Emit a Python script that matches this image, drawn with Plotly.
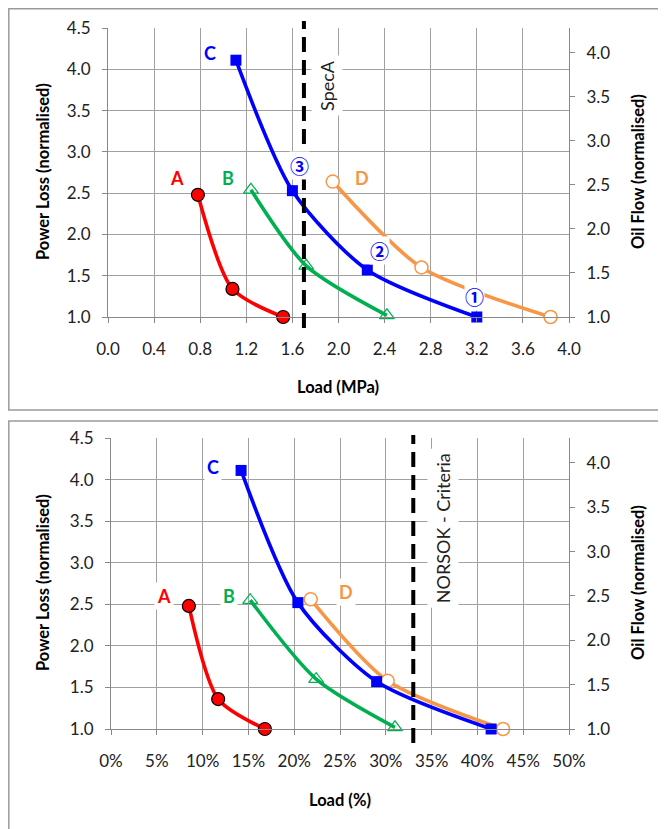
import plotly.graph_objects as go

# ---------------- data ----------------
# Top chart: Load (MPa)
mpa_A = [0.78, 1.08, 1.52]
pl_A_top = [2.48, 1.34, 1.0]
mpa_B = [1.24, 1.72, 2.42]
pl_B_top = [2.54, 1.62, 1.02]
mpa_C = [1.11, 1.60, 2.25, 3.20]
pl_C_top = [4.11, 2.53, 1.57, 1.0]
mpa_D = [1.95, 2.72, 3.84]
pl_D_top = [2.64, 1.60, 1.0]

# Bottom chart: Load (%)
pct_A = [8.5, 11.7, 16.8]
pl_A_bot = [2.48, 1.36, 1.0]
pct_B = [15.2, 22.4, 31.0]
pl_B_bot = [2.55, 1.60, 1.02]
pct_C = [14.2, 20.4, 29.0, 41.5]
pl_C_bot = [4.11, 2.52, 1.57, 1.0]
pct_D = [21.8, 30.2, 42.8]
pl_D_bot = [2.56, 1.58, 1.0]

SPEC_A = 1.70       # MPa
NORSOK = 33.0       # %

x_top_ticks = [0.0, 0.4, 0.8, 1.2, 1.6, 2.0, 2.4, 2.8, 3.2, 3.6, 4.0]
x_bot_ticks = [0, 5, 10, 15, 20, 25, 30, 35, 40, 45, 50]
x_bot_labels = ["0%", "5%", "10%", "15%", "20%", "25%", "30%", "35%", "40%", "45%", "50%"]
y_left_ticks = [1.0, 1.5, 2.0, 2.5, 3.0, 3.5, 4.0, 4.5]
y_right_ticks = [1.0, 1.5, 2.0, 2.5, 3.0, 3.5, 4.0]

RED = "#FF0000"
GREEN = "#00B050"
BLUE = "#0000FF"
ORANGE = "#F79646"
GRID = "#A0A0A0"
FONT = "Lato"

W, H = 666, 829
OFF = 8  # page body margin


def px_x(p):
    return (p - OFF) / W


def px_y(p):
    return 1 - (p - OFF) / H


fig = go.Figure()
SMOOTH = 0.75


def add_series(xs, ys, xa, ya, color, marker):
    fig.add_trace(go.Scatter(
        x=xs, y=ys, xaxis=xa, yaxis=ya, mode="lines+markers",
        line=dict(color=color, width=3.6, shape="spline", smoothing=SMOOTH),
        marker=marker, showlegend=False, cliponaxis=False, hoverinfo="skip"))


def mk_A():
    return dict(symbol="circle", size=13, color=RED, line=dict(color="black", width=1.2))


def mk_B():
    return dict(symbol="triangle-up-open", size=13, color=GREEN, line=dict(color=GREEN, width=1.2))


def mk_C():
    return dict(symbol="square", size=11, color=BLUE, line=dict(width=0))


def mk_D():
    return dict(symbol="circle", size=13, color="white", line=dict(color=ORANGE, width=1.5))


# top
add_series(mpa_A, pl_A_top, "x", "y", RED, mk_A())
add_series(mpa_B, pl_B_top, "x", "y", GREEN, mk_B())
add_series(mpa_D, pl_D_top, "x", "y", ORANGE, mk_D())
add_series(mpa_C, pl_C_top, "x", "y", BLUE, mk_C())
# bottom
add_series(pct_A, pl_A_bot, "x2", "y3", RED, mk_A())
add_series(pct_B, pl_B_bot, "x2", "y3", GREEN, mk_B())
add_series(pct_D, pl_D_bot, "x2", "y3", ORANGE, mk_D())
add_series(pct_C, pl_C_bot, "x2", "y3", BLUE, mk_C())
# invisible traces to activate secondary axes
fig.add_trace(go.Scatter(x=[None], y=[None], xaxis="x", yaxis="y2", showlegend=False))
fig.add_trace(go.Scatter(x=[None], y=[None], xaxis="x2", yaxis="y4", showlegend=False))

tickfont = dict(family=FONT, size=17, color="#222222")

top_dom_y = [px_y(317), px_y(28)]
bot_dom_y = [px_y(729), px_y(438)]

common_x = dict(showgrid=True, gridcolor=GRID, gridwidth=1, showline=True, linecolor="#888888",
                linewidth=1, ticks="outside", ticklen=5, tickcolor="#888888", zeroline=False,
                tickfont=tickfont, ticklabelstandoff=12, fixedrange=True, automargin=False)
common_yl = dict(showgrid=True, gridcolor=GRID, gridwidth=1, showline=True, linecolor="#888888",
                 linewidth=1, ticks="outside", ticklen=5, tickcolor="#888888", zeroline=False,
                 tickfont=tickfont, tickmode="array", tickvals=y_left_ticks, tickformat=".1f",
                 range=[1.0, 4.5], ticklabelstandoff=8, fixedrange=True, automargin=False)
common_yr = dict(showgrid=False, showline=True, linecolor="#888888", linewidth=1,
                 ticks="outside", ticklen=5, tickcolor="#888888", zeroline=False,
                 tickfont=tickfont, tickmode="array", tickvals=y_right_ticks, tickformat=".1f",
                 range=[1.0, 4.28], side="right", ticklabelstandoff=8, fixedrange=True,
                 automargin=False)

fig.update_layout(
    width=W, height=H, margin=dict(l=0, r=0, t=0, b=0, autoexpand=False),
    paper_bgcolor="white", plot_bgcolor="white",
    xaxis=dict(common_x, domain=[px_x(108), px_x(569)], range=[0, 4.0], tickmode="array",
               tickvals=x_top_ticks, tickformat=".1f", anchor="y"),
    yaxis=dict(common_yl, domain=top_dom_y, anchor="x"),
    yaxis2=dict(common_yr, overlaying="y", anchor="x"),
    xaxis2=dict(common_x, domain=[px_x(111), px_x(569)], range=[0, 50], tickmode="array",
                tickvals=x_bot_ticks, ticktext=x_bot_labels, anchor="y3"),
    yaxis3=dict(common_yl, domain=bot_dom_y, anchor="x2"),
    yaxis4=dict(common_yr, overlaying="y3", anchor="x2"),
)

shapes = []
FRAME = dict(color="#9A9A9A", width=1.5)
# chart frames
shapes.append(dict(type="rect", xref="paper", yref="paper", x0=px_x(8.8), x1=1.05,
                   y0=px_y(410), y1=px_y(8.8), line=FRAME, layer="below"))
shapes.append(dict(type="rect", xref="paper", yref="paper", x0=px_x(8.8), x1=1.05,
                   y0=-0.05, y1=px_y(421), line=FRAME, layer="below"))
# criteria lines
shapes.append(dict(type="line", xref="x", yref="paper", x0=SPEC_A, x1=SPEC_A,
                   y0=px_y(328), y1=px_y(21), line=dict(color="black", width=4, dash="15px,8px")))
shapes.append(dict(type="line", xref="x2", yref="paper", x0=NORSOK, x1=NORSOK,
                   y0=px_y(743), y1=px_y(435), line=dict(color="black", width=4, dash="15px,8px")))
fig.update_layout(shapes=shapes)

ann = []


def lab(text, x, y, xr, yr, color, size=18, bold=True, font=FONT, pad=2):
    t = f"<b>{text}</b>" if bold else text
    ann.append(dict(text=t, x=x, y=y, xref=xr, yref=yr, showarrow=False,
                    xanchor="center", yanchor="middle",
                    font=dict(family=font, size=size, color=color), bgcolor="white",
                    borderpad=pad))


CIRC = "Noto Sans CJK JP"
# top letters
lab("C", 0.885, 4.20, "x", "y", BLUE)
lab("A", 0.60, 2.68, "x", "y", RED)
lab("B", 1.04, 2.68, "x", "y", GREEN)
lab("D", 2.20, 2.68, "x", "y", ORANGE)
lab("\u2462", 1.66, 2.84, "x", "y", BLUE, size=19, bold=True, font=CIRC, pad=0)
lab("\u2461", 2.36, 1.80, "x", "y", BLUE, size=19, bold=True, font=CIRC, pad=0)
lab("\u2460", 3.18, 1.25, "x", "y", BLUE, size=19, bold=True, font=CIRC, pad=0)
# bottom letters
lab("C", 11.1, 4.15, "x2", "y3", BLUE)
lab("A", 5.8, 2.60, "x2", "y3", RED)
lab("B", 12.9, 2.60, "x2", "y3", GREEN)
lab("D", 25.7, 2.65, "x2", "y3", ORANGE)

# criteria labels
ann.append(dict(text="SpecA", x=1.90, y=3.81, xref="x", yref="y", showarrow=False,
                xanchor="center", yanchor="middle",
                textangle=-90, font=dict(family=FONT, size=18, color="#222222"),
                bgcolor="white", borderpad=4))
ann.append(dict(text="NORSOK - Criteria", x=36.2, y=3.41, xref="x2", yref="y3", showarrow=False,
                xanchor="center", yanchor="middle",
                textangle=-90, font=dict(family=FONT, size=18, color="#222222"),
                bgcolor="white", borderpad=4))

# axis titles
tfont = dict(family=FONT, size=16.5, color="black")


def title(text, xp, yp, angle=0):
    ann.append(dict(text=f"<b>{text}</b>", x=px_x(xp), y=px_y(yp), xref="paper", yref="paper",
                    showarrow=False, xanchor="center", yanchor="middle", textangle=angle,
                    font=tfont))


title("Load (MPa)", 338, 387)
title("Load (%)", 340, 800)
for yc in (172, 583):
    title("Power Loss (normalised)", 43, yc, -90)
    title("Oil Flow (normalised)", 638, yc, -90)

fig.update_layout(annotations=ann)

fig.write_html("out.html")
